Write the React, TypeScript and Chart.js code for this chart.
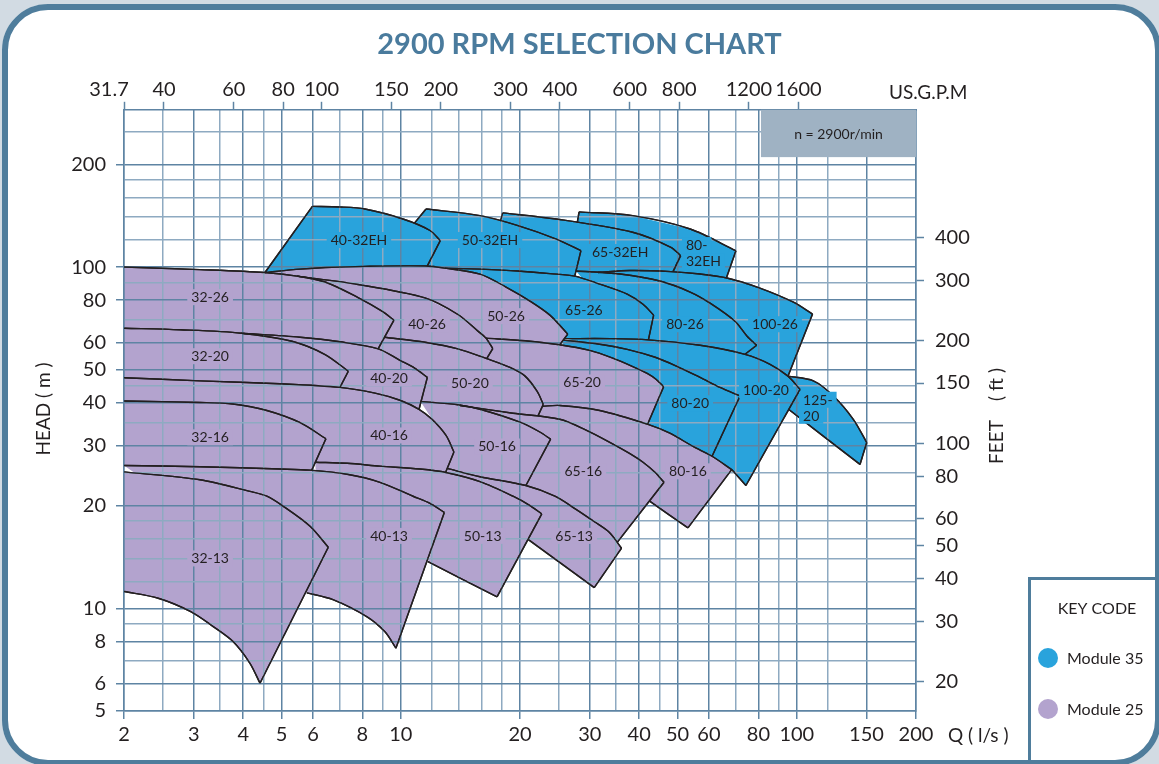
import React, { useEffect, useRef } from 'react';
import { Chart, registerables } from 'chart.js';

Chart.register(...registerables);
Chart.defaults.font.family = 'Lato';

// ---------- axes ----------
const Q_MIN = 2;
const Q_MAX = 200;
const H_MIN = 5;
const H_MAX = 289;
const LPS_TO_GPM = 15.85;
const M_TO_FT = 3.2808;

const Q_GRID = [2, 2.5, 3, 3.5, 4, 4.5, 5, 6, 7, 8, 9, 10, 12, 14, 16, 18, 20, 25, 30, 35, 40, 45, 50, 60, 70, 80, 90, 100, 120, 150, 200];
const Q_LABELS = [2, 3, 4, 5, 6, 8, 10, 20, 30, 40, 50, 60, 80, 100, 150, 200];
const H_GRID = [5, 6, 7, 8, 9, 10, 12, 14, 16, 18, 20, 25, 30, 35, 40, 45, 50, 60, 70, 80, 90, 100, 120, 140, 160, 180, 200, 250];
const H_LABELS = [5, 6, 8, 10, 20, 30, 40, 50, 60, 80, 100, 200];
const GPM_TICKS = [31.7, 40, 60, 80, 100, 150, 200, 300, 400, 600, 800, 1200, 1600];
const FEET_TICKS = [20, 30, 40, 50, 60, 80, 100, 150, 200, 300, 400];

// speed note box: from Q to right edge, from top down to H
const NOTE_Q = 81.2;
const NOTE_H = 210;

// ---------- zones: top curve [Q l/s, H m] and return path (first point = end of right edge) ----------
const T_40_32EH = [[4.54, 96.4], [5.98, 150.6], [7.02, 150.0], [8.12, 148.0], [10.13, 138.3], [11.85, 128.0], [12.58, 119.5]];
const B_40_32EH = [[11.66, 100.6], [8.12, 100.5], [6.44, 99.7], [5.57, 98.6]];
const T_50_32EH = [[10.8, 134.1], [11.58, 148.0], [15.85, 141.5], [19.77, 132.3], [24.7, 120.8], [28.5, 111.7]];
const B_50_32EH = [[27.5, 94.1], [23.8, 95.7], [19.77, 97.4], [15.85, 98.6], [12.93, 99.3], [11.66, 100.6]];
const T_65_32EH = [[17.86, 136.4], [18.08, 144.1], [24.7, 138.3], [38.5, 126.5], [48.1, 114.3], [50.9, 108.0]];
const B_65_32EH = [[48.7, 97.0], [37.9, 97.7], [31.5, 96.4], [27.7, 97.4]];
const T_80_32EH = [[27.9, 135.0], [28.2, 145.1], [38.5, 141.5], [53.8, 129.3], [70.2, 111.7]];
const B_80_32EH = [[66.4, 92.9], [57.0, 95.4], [48.1, 97.0]];

const T_32_26 = [[2, 100], [3.11, 98.3], [4.54, 96.4], [5.47, 94.1], [6.44, 90.4], [7.8, 81.4], [8.96, 74.3], [9.61, 69.9]];
const B_32_26 = [[8.77, 57.7], [7.02, 60.4], [5.57, 62.3], [3.96, 64.0], [2.77, 65.5], [2, 66.2]];
const T_40_26 = [[5.47, 94.1], [7.8, 88.9], [11.51, 81.2], [13.94, 72.6], [15.66, 64.9], [16.41, 61.9], [17.07, 57.7]];
const B_40_26 = [[16.48, 53.9], [13.94, 57.6], [11.51, 60.2], [9.1, 62.3], [9.61, 69.9], [8.96, 74.3], [7.8, 81.4], [6.44, 90.4]];
const T_50_26 = [[4.54, 96.4], [5.57, 98.6], [6.44, 99.7], [8.12, 100.5], [11.51, 100.7], [12.93, 99.3], [15.85, 95.4], [18.44, 87.4], [21.2, 79.5], [23.8, 72.3], [26.4, 63.6]];
const B_50_26 = [[25.2, 59.2], [20.6, 60.8], [16.41, 61.9], [15.66, 64.9], [13.94, 72.6], [11.51, 81.2], [7.8, 88.9], [5.47, 94.1]];
const T_65_26 = [[12.93, 99.3], [15.85, 98.6], [19.77, 97.4], [23.8, 95.7], [27.5, 94.1], [31.8, 89.1], [37.3, 83.3], [40.9, 77.8], [43.5, 72.3]];
const B_65_26 = [[42.2, 61.2], [33.8, 61.7], [25.9, 61.7], [26.4, 63.6], [23.8, 72.3], [21.2, 79.5], [18.44, 87.4], [15.85, 95.4]];
const T_80_26 = [[27.7, 97.4], [35.8, 95.4], [45.1, 91.0], [53.8, 84.5], [60.4, 78.4], [69.8, 69.4], [74.9, 62.7], [79.2, 59.0]];
const B_80_26 = [[74.0, 55.5], [57.0, 59.0], [42.2, 61.2], [31.8, 80.5]];
const T_100_26 = [[31.5, 96.4], [37.9, 97.7], [48.1, 97.0], [57.0, 95.4], [66.6, 92.9], [80.7, 86.8], [97.8, 79.0], [109.6, 72.8]];
const B_100_26 = [[95.0, 47.9], [85.6, 51.9], [74.0, 55.5], [57.0, 65.7]];

const T_32_20 = [[2, 66.2], [2.77, 65.5], [3.96, 64.0], [5.31, 60.6], [6.44, 55.4], [7.37, 49.5]];
const B_32_20 = [[7.02, 44.4], [4.95, 45.5], [3.11, 46.4], [2, 47.4]];
const T_40_20 = [[3.96, 64.0], [5.57, 62.3], [7.02, 60.4], [8.77, 57.6], [9.95, 53.3], [10.86, 50.5], [11.67, 47.5]];
const B_40_20 = [[11.12, 38.3], [9.95, 40.7], [8.61, 42.7], [7.02, 44.4], [7.37, 49.5], [6.44, 55.4], [5.31, 60.6]];
const T_50_20 = [[9.1, 62.3], [11.51, 60.2], [13.94, 57.6], [16.48, 53.9], [18.87, 50.8], [20.6, 47.9], [22.1, 43.2], [22.9, 39.6]];
const B_50_20 = [[22.2, 36.6], [19.2, 37.3], [14.11, 39.3], [11.22, 40.4], [11.67, 47.5], [10.86, 50.5], [9.95, 53.3], [8.77, 57.6]];
const T_65_20 = [[16.41, 61.9], [20.6, 60.8], [25.2, 59.2], [30.0, 57.0], [34.3, 54.1], [38.4, 51.2], [41.9, 48.8], [44.1, 46.9], [46.1, 44.6]];
const B_65_20 = [[42.0, 34.6], [31.8, 38.0], [25.2, 39.3], [22.8, 39.1], [22.9, 39.6], [22.1, 43.2], [20.6, 47.9], [18.87, 50.8], [16.48, 53.9], [17.07, 57.7]];
const T_80_20 = [[25.7, 61.1], [31.8, 59.4], [37.3, 57.4], [43.9, 54.4], [49.8, 51.2], [57.0, 47.5], [64.0, 44.4], [71.9, 41.9]];
const B_80_20 = [[61.1, 27.9], [54.7, 29.8], [47.8, 32.6], [42.0, 34.6], [46.1, 44.6], [44.1, 46.9], [41.9, 48.8], [38.4, 51.2], [34.3, 54.1], [30.0, 57.0], [25.7, 59.0]];
const T_100_20 = [[25.9, 61.7], [33.8, 61.7], [42.2, 61.2], [57.0, 59.0], [74.0, 55.5], [85.6, 51.9], [95.0, 47.9], [101.9, 43.8]];
const B_100_20 = [[74.4, 22.9], [68.5, 25.5], [61.1, 27.9], [57.0, 42.4], [40.2, 53.7], [31.8, 59.0]];
const T_125_20 = [[95.0, 47.9], [110.1, 46.4], [123.7, 41.9], [138.9, 35.8], [150.2, 30.6]];
const B_125_20 = [[144.4, 26.4], [95.3, 38.3]];

const T_32_16 = [[2, 40.5], [3.11, 40.1], [3.77, 39.7], [4.59, 38.0], [5.57, 35.0], [6.47, 31.4]];
const B_32_16 = [[5.96, 25.4], [4.95, 25.6], [3.11, 26.0], [2, 26.2]];
const T_40_16 = [[2, 47.4], [3.11, 46.4], [4.95, 45.5], [7.02, 44.4], [8.61, 42.7], [9.95, 40.7], [11.12, 38.3], [11.99, 35.8], [13.01, 32.1], [13.62, 28.7]];
const B_40_16 = [[12.99, 25.1], [11.18, 25.6], [8.86, 26.1], [7.32, 26.6], [6.09, 26.8], [6.47, 31.4], [5.57, 35.0], [4.59, 38.0], [3.77, 39.7], [3.11, 40.1], [2, 40.5]];
const T_50_16 = [[11.22, 40.4], [13.94, 39.5], [15.85, 38.3], [20.0, 35.1], [22.5, 32.8], [23.9, 31.3]];
const B_50_16 = [[20.7, 22.9], [15.85, 24.3], [13.09, 25.7], [13.62, 28.7], [13.01, 32.1], [11.99, 35.8]];
const T_65_16 = [[14.11, 39.3], [19.2, 37.3], [25.2, 35.8], [29.2, 33.4], [33.8, 30.6], [37.9, 28.4], [40.9, 26.8], [43.9, 25.0], [46.2, 23.4]];
const B_65_16 = [[35.2, 15.6], [33.6, 16.7], [30.9, 17.9], [27.7, 19.5], [24.5, 21.3], [20.7, 22.9], [23.9, 31.3], [22.5, 32.8], [20.0, 35.1], [15.85, 38.3]];
const T_80_16 = [[22.8, 39.1], [25.2, 39.3], [31.8, 38.0], [42.1, 34.6], [47.8, 32.6], [54.7, 29.8], [61.1, 27.9], [68.5, 25.5]];
const B_80_16 = [[53.1, 17.2], [42.5, 20.6], [46.2, 23.4], [43.9, 25.0], [40.9, 26.8], [37.9, 28.4], [33.8, 30.6], [29.2, 33.4], [25.2, 35.8], [22.2, 36.6]];

const T_32_13 = [[2, 25.1], [3.11, 23.8], [4.16, 22.0], [4.59, 21.3], [5.05, 19.9], [5.9, 17.4], [6.56, 15.1]];
const B_32_13 = [[4.41, 6.03], [4.16, 6.9], [3.77, 7.99], [3.36, 8.84], [2.94, 9.79], [2.44, 10.7], [2, 11.2]];
const T_40_13 = [[2, 26.2], [3.11, 26.0], [4.95, 25.6], [5.9, 25.4], [7.32, 24.7], [8.86, 23.4], [10.74, 21.3], [11.85, 20.3], [12.88, 19.1]];
const B_40_13 = [[9.72, 7.64], [9.12, 8.53], [8.22, 9.44], [6.74, 10.6], [5.79, 11.1]];
const T_50_13 = [[6.09, 26.8], [7.32, 26.6], [8.86, 26.1], [11.18, 25.6], [13.01, 25.0], [15.85, 23.5], [19.2, 21.3], [21.2, 20.0], [22.7, 18.9]];
const B_50_13 = [[17.5, 10.8], [11.71, 13.7], [12.88, 19.1], [11.85, 20.3], [10.74, 21.3], [8.86, 23.4], [7.32, 24.7], [6.09, 25.3]];
const T_65_13 = [[13.09, 25.7], [15.85, 24.3], [20.7, 22.9], [24.5, 21.3], [27.7, 19.5], [30.9, 17.9], [33.6, 16.7], [36.1, 15.0]];
const B_65_13 = [[30.8, 11.5], [21.0, 15.9], [22.7, 18.9], [21.2, 20.0], [19.2, 21.3], [15.85, 23.5], [13.09, 24.9]];

// name, module, top, return path, visible points of return path, straight lead segments, label [Q,H]
const ZONES = [
  { name: '40-32EH', module: 35, top: T_40_32EH, base: B_40_32EH, edge: 1, lead: 1, label: [7.84, 120] },
  { name: '50-32EH', module: 35, top: T_50_32EH, base: B_50_32EH, edge: 1, lead: 1, label: [16.8, 120] },
  { name: '65-32EH', module: 35, top: T_65_32EH, base: B_65_32EH, edge: 1, lead: 1, label: [35.8, 110.7] },
  { name: '80-\n32EH', module: 35, top: T_80_32EH, base: B_80_32EH, edge: 1, lead: 1, label: [52.5, 109.9], left: true },
  { name: '32-26', module: 25, top: T_32_26, base: B_32_26, edge: 1, lead: 0, label: [3.3, 81.6] },
  { name: '40-26', module: 25, top: T_40_26, base: B_40_26, edge: 1, lead: 0, label: [11.65, 68.0] },
  { name: '50-26', module: 25, top: T_50_26, base: B_50_26, edge: 1, lead: 0, label: [18.44, 71.8] },
  { name: '65-26', module: 35, top: T_65_26, base: B_65_26, edge: 1, lead: 0, label: [29.0, 74.8] },
  { name: '80-26', module: 35, top: T_80_26, base: B_80_26, edge: 1, lead: 0, label: [52.2, 68.0] },
  { name: '100-26', module: 35, top: T_100_26, base: B_100_26, edge: 1, lead: 0, label: [88.1, 68.0] },
  { name: '32-20', module: 25, top: T_32_20, base: B_32_20, edge: 1, lead: 0, label: [3.3, 54.8] },
  { name: '40-20', module: 25, top: T_40_20, base: B_40_20, edge: 1, lead: 0, label: [9.34, 47.2] },
  { name: '50-20', module: 25, top: T_50_20, base: B_50_20, edge: 1, lead: 0, label: [14.95, 45.6] },
  { name: '65-20', module: 25, top: T_65_20, base: B_65_20, edge: 1, lead: 0, label: [28.7, 45.9] },
  { name: '80-20', module: 35, top: T_80_20, base: B_80_20, edge: 1, lead: 0, label: [53.8, 39.9] },
  { name: '100-20', module: 35, top: T_100_20, base: B_100_20, edge: 2, lead: 0, label: [83.6, 43.5] },
  { name: '125-\n20', module: 35, top: T_125_20, base: B_125_20, edge: 2, lead: 0, label: [103.7, 38.7], left: true },
  { name: '32-16', module: 25, top: T_32_16, base: B_32_16, edge: 1, lead: 0, label: [3.3, 31.7] },
  { name: '40-16', module: 25, top: T_40_16, base: B_40_16, edge: 1, lead: 0, label: [9.34, 32.1] },
  { name: '50-16', module: 25, top: T_50_16, base: B_50_16, edge: 1, lead: 0, label: [17.5, 29.8] },
  { name: '65-16', module: 25, top: T_65_16, base: B_65_16, edge: 1, lead: 0, label: [28.9, 25.2] },
  { name: '80-16', module: 25, top: T_80_16, base: B_80_16, edge: 2, lead: 0, label: [53.1, 25.2] },
  { name: '32-13', module: 25, top: T_32_13, base: B_32_13, edge: 7, lead: 0, label: [3.3, 14.0] },
  { name: '40-13', module: 25, top: T_40_13, base: B_40_13, edge: 5, lead: 0, label: [9.34, 16.3] },
  { name: '50-13', module: 25, top: T_50_13, base: B_50_13, edge: 2, lead: 0, label: [16.1, 16.3] },
  { name: '65-13', module: 25, top: T_65_13, base: B_65_13, edge: 2, lead: 0, label: [27.4, 16.3] },
];

// ---------- styles ----------
const BLUE = '#29a3dc';
const PURPLE = '#b3a3ce';
const LINE = '#231f20';
const TEXT = '#231f20';
const DARK_GRID = '#5e84a3';
const LIGHT_GRID = '#8eaac1';
const FRAME = '#4f7d9c';

const pts = (arr: number[][]) => arr.map(([x, y]) => ({ x, y }));

function buildDatasets() {
  const ds: any[] = [];
  const outline = { kind: 'outline', borderColor: LINE, borderWidth: 1.4, fill: false, pointRadius: 0, order: 1 };
  ZONES.forEach((z) => {
    const color = z.module === 35 ? BLUE : PURPLE;
    ds.push({
      kind: 'fill',
      data: pts([...z.top, ...z.base]),
      backgroundColor: color,
      borderWidth: 0,
      pointRadius: 0,
      fill: 'shape',
      tension: 0,
      order: z.module === 35 ? 2 : 3,
    });
    const last = z.top[z.top.length - 1];
    if (z.lead > 0) ds.push({ ...outline, data: pts(z.top.slice(0, z.lead + 1)), tension: 0 });
    ds.push({ ...outline, data: pts(z.top.slice(z.lead)), tension: 0.3 });
    ds.push({ ...outline, data: pts([last, z.base[0]]), tension: 0 });
    if (z.edge > 1) ds.push({ ...outline, data: pts(z.base.slice(0, z.edge)), tension: 0.3 });
  });
  return ds;
}

const overlayPlugin = {
  id: 'overlay',
  afterDraw(chart: any) {
    const { ctx, chartArea } = chart;
    const xs = chart.scales.x;
    const ys = chart.scales.y;
    ctx.save();

    // speed note box
    const nx = xs.getPixelForValue(NOTE_Q);
    const ny = ys.getPixelForValue(NOTE_H);
    ctx.fillStyle = '#9fb2c3';
    ctx.fillRect(nx, chartArea.top, chartArea.right - nx, ny - chartArea.top);
    ctx.fillStyle = TEXT;
    ctx.font = '14px Lato';
    ctx.textAlign = 'center';
    ctx.textBaseline = 'middle';
    ctx.fillText('n = 2900r/min', (nx + chartArea.right) / 2, (chartArea.top + ny) / 2 + 1);

    // outlines above grid
    chart.data.datasets.forEach((d: any, i: number) => {
      if (d.kind === 'outline') {
        const meta = chart.getDatasetMeta(i);
        if (meta && meta.dataset) meta.dataset.draw(ctx, chartArea);
      }
    });

    // zone labels
    ctx.font = '14px Lato';
    ctx.textAlign = 'left';
    ctx.textBaseline = 'middle';
    ZONES.forEach((z) => {
      const px = xs.getPixelForValue(z.label[0]);
      const py = ys.getPixelForValue(z.label[1]);
      const lines = z.name.split('\n');
      lines.forEach((t, k) => {
        const w = ctx.measureText(t).width;
        const cy = py + (k - (lines.length - 1) / 2) * 16;
        const left = z.left ? px : px - w / 2;
        ctx.fillStyle = z.module === 35 ? BLUE : PURPLE;
        ctx.fillRect(left - 4, cy - 8, w + 8, 16);
        ctx.fillStyle = TEXT;
        ctx.fillText(t, left, cy + 0.5);
      });
    });

    // axis captions
    ctx.fillStyle = TEXT;
    ctx.font = '19px Lato';
    ctx.textAlign = 'left';
    ctx.textBaseline = 'middle';
    ctx.fillText('US.G.P.M', chartArea.right - 27, 93);
    ctx.fillText('Q ( l/s )', chartArea.right + 32, 736);
    ctx.textAlign = 'center';
    ctx.save();
    ctx.translate(44, 409);
    ctx.rotate(-Math.PI / 2);
    ctx.fillText('HEAD ( m )', 0, 0);
    ctx.restore();
    ctx.save();
    ctx.translate(997, 416);
    ctx.rotate(-Math.PI / 2);
    ctx.fillText('FEET \u2003( ft )', 0, 0);
    ctx.restore();

    // key code box
    ctx.strokeStyle = FRAME;
    ctx.lineWidth = 3;
    ctx.beginPath();
    ctx.moveTo(1029.5, 770);
    ctx.lineTo(1029.5, 578.5);
    ctx.lineTo(1170, 578.5);
    ctx.stroke();
    ctx.fillStyle = TEXT;
    ctx.font = '16px Lato';
    ctx.textAlign = 'center';
    ctx.fillText('KEY CODE', 1097, 609);
    ctx.textAlign = 'left';
    ctx.fillStyle = BLUE;
    ctx.beginPath();
    ctx.arc(1048, 658, 10, 0, Math.PI * 2);
    ctx.fill();
    ctx.fillStyle = PURPLE;
    ctx.beginPath();
    ctx.arc(1048, 709, 10, 0, Math.PI * 2);
    ctx.fill();
    ctx.fillStyle = TEXT;
    ctx.fillText('Module 35', 1067, 659);
    ctx.fillText('Module 25', 1067, 710);

    ctx.restore();
  },
};

const tickFont = { family: 'Lato', size: 20 };

function makeConfig(): any {
  return {
    type: 'line',
    data: { datasets: buildDatasets() },
    plugins: [overlayPlugin],
    options: {
      responsive: false,
      animation: false,
      devicePixelRatio: 1,
      events: [],
      layout: { padding: 0 },
      plugins: {
        legend: { display: false },
        tooltip: { enabled: false },
        title: {
          display: true,
          text: '2900 RPM SELECTION CHART',
          color: '#4a7b9d',
          font: { family: 'Lato', size: 29, weight: 'bold' },
          padding: { top: 27, bottom: 0 },
        },
      },
      scales: {
        x: {
          type: 'logarithmic',
          position: 'bottom',
          min: Q_MIN,
          max: Q_MAX,
          afterBuildTicks: (s: any) => { s.ticks = Q_GRID.map((v) => ({ value: v })); },
          afterFit: (s: any) => { s.height = 53; },
          ticks: {
            autoSkip: false,
            maxRotation: 0,
            padding: 4,
            color: TEXT,
            font: tickFont,
            callback: (v: number) => (Q_LABELS.includes(v) ? String(v) : ''),
          },
          grid: {
            z: 1,
            color: (c: any) => (c.tick && Q_LABELS.includes(c.tick.value) ? DARK_GRID : LIGHT_GRID),
            lineWidth: 1.5,
            tickLength: 8,
            tickWidth: 1.5,
            tickColor: (c: any) => (c.tick && Q_LABELS.includes(c.tick.value) ? DARK_GRID : 'rgba(0,0,0,0)'),
          },
          border: { display: true, color: DARK_GRID, width: 1.5, z: 2 },
        },
        x2: {
          type: 'logarithmic',
          position: 'top',
          min: Q_MIN * LPS_TO_GPM,
          max: Q_MAX * LPS_TO_GPM,
          afterBuildTicks: (s: any) => { s.ticks = GPM_TICKS.map((v) => ({ value: v })); },
          afterFit: (s: any) => { s.height = 48; },
          ticks: {
            autoSkip: false,
            maxRotation: 0,
            padding: 0,
            color: TEXT,
            font: tickFont,
            callback: (v: number) => (v === GPM_TICKS[0] ? String(v) + '\u2003\u2003' : String(v)),
          },
          grid: { z: 1, drawOnChartArea: false, tickLength: 8, tickWidth: 1.5, tickColor: DARK_GRID },
          border: { display: true, color: DARK_GRID, width: 1.5, z: 2 },
        },
        y: {
          type: 'logarithmic',
          position: 'left',
          min: H_MIN,
          max: H_MAX,
          afterBuildTicks: (s: any) => { s.ticks = H_GRID.map((v) => ({ value: v })); },
          afterFit: (s: any) => { s.width = 124; },
          ticks: {
            autoSkip: false,
            padding: 10,
            color: TEXT,
            font: tickFont,
            callback: (v: number) => (H_LABELS.includes(v) ? String(v) : ''),
          },
          grid: {
            z: 1,
            color: (c: any) => (c.tick && H_LABELS.includes(c.tick.value) ? DARK_GRID : LIGHT_GRID),
            lineWidth: 1.5,
            tickLength: 8,
            tickWidth: 1.5,
            tickColor: (c: any) => (c.tick && H_LABELS.includes(c.tick.value) ? DARK_GRID : 'rgba(0,0,0,0)'),
          },
          border: { display: true, color: DARK_GRID, width: 1.5, z: 2 },
        },
        y2: {
          type: 'logarithmic',
          position: 'right',
          min: H_MIN * M_TO_FT,
          max: H_MAX * M_TO_FT,
          afterBuildTicks: (s: any) => { s.ticks = FEET_TICKS.map((v) => ({ value: v })); },
          afterFit: (s: any) => { s.width = 243; },
          ticks: {
            autoSkip: false,
            padding: 11,
            color: TEXT,
            font: tickFont,
            callback: (v: number) => String(v),
          },
          grid: { z: 1, drawOnChartArea: false, tickLength: 8, tickWidth: 1.5, tickColor: DARK_GRID },
          border: { display: true, color: DARK_GRID, width: 1.5, z: 2 },
        },
      },
    },
  };
}

export default function App() {
  const ref = useRef<HTMLCanvasElement | null>(null);
  useEffect(() => {
    if (!ref.current) return;
    const chart = new Chart(ref.current, makeConfig());
    return () => chart.destroy();
  }, []);
  return (
    <div style={{ position: 'fixed', left: 0, top: 0, width: 1159, height: 764, overflow: 'hidden', background: '#d2dbe3' }}>
      <div style={{ position: 'absolute', left: 2, top: 4, width: 1159, height: 762, borderRadius: 46, background: '#ffffff' }} />
      <canvas ref={ref} width={1159} height={764} style={{ position: 'absolute', left: 0, top: 0, width: 1159, height: 764 }} />
      <div
        style={{
          position: 'absolute',
          left: 2,
          top: 4,
          width: 1159,
          height: 762,
          boxSizing: 'border-box',
          border: `6px solid ${FRAME}`,
          borderRadius: 46,
          pointerEvents: 'none',
        }}
      />
    </div>
  );
}
